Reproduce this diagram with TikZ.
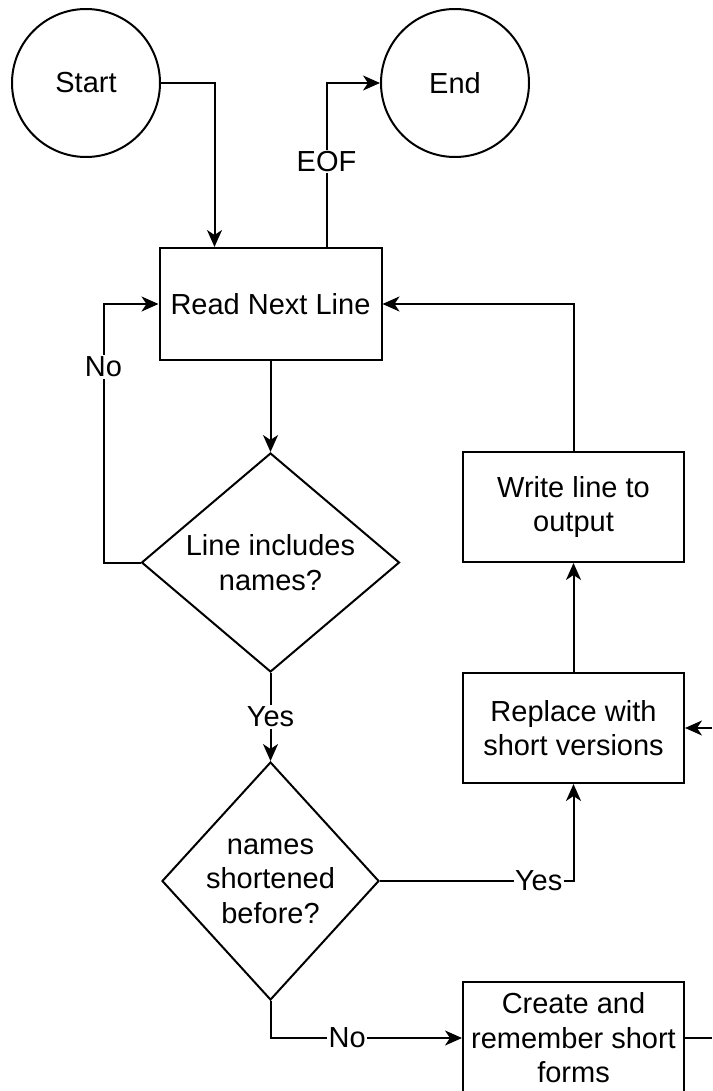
\documentclass[tikz,border=0pt]{standalone}
\usepackage{fontspec}
\setmainfont{Liberation Sans}
\usetikzlibrary{shapes.geometric,arrows.meta}
\begin{document}
\begin{tikzpicture}[x=1pt,y=-1pt,
  every node/.style={font=\fontsize{29}{34.5}\selectfont},
  line/.style={line width=2pt},
  flow/.style={line width=2pt, -{Stealth[length=17pt,width=15pt,inset=5pt]}},
  terminal/.style={draw, line width=2pt, circle, minimum size=148pt, inner sep=0pt},
  process/.style={draw, line width=2pt, rectangle, inner sep=0pt, align=center},
  decision/.style={draw, line width=2pt, diamond, inner sep=0pt},
  lbl/.style={fill=white, inner sep=1.5pt}
]
\useasboundingbox (0,0) rectangle (712,1091);

% terminals
\node[terminal] (start) at (86,83) {Start};
\node[terminal] (end) at (455,83) {End};

% processes
\node[process, minimum width=222pt, minimum height=112pt] (read) at (270.5,304) {Read Next Line};
\node[process, minimum width=221pt, minimum height=110pt] (write) at (573.5,507) {Write line to\\output};
\node[process, minimum width=221pt, minimum height=110pt] (replace) at (573.5,728) {Replace with\\short versions};
\node[process, minimum width=221pt, minimum height=112pt] (create) at (573.5,1038) {Create and\\remember short\\forms};

% decisions
\node[decision, minimum width=258pt, minimum height=219pt,
      label={[align=center]center:Line includes\\names?}] (dec1) at (270.5,562.5) {};
\node[decision, minimum width=217pt, minimum height=238pt,
      label={[align=center]center:names\\shortened\\before?}] (dec2) at (270.5,881) {};

% free ends at the right border
\coordinate (inR) at (712,728);
\coordinate (outC) at (712,1038);

% connectors
\draw[flow] (start.east) -| ([xshift=-56pt]read.north);
\draw[flow] ([xshift=56pt]read.north) |- node[lbl, pos=0.26] {EOF} (end.west);
\draw[flow] (read.south) -- (dec1.north);
\draw[flow] (dec1.west) -- ++(-37,0) |- node[lbl, pos=0.378] {No} (read.west);
\draw[flow] (dec1.south) -- node[lbl] {Yes} (dec2.north);
\draw[flow] (dec2.east) -| node[lbl, pos=0.41] {Yes} (replace.south);
\draw[flow] (dec2.south) |- node[lbl, pos=0.70] {No} (create.west);
\draw[flow] (replace.north) -- (write.south);
\draw[flow] (write.north) |- (read.east);
\draw[flow] (inR) -- (replace.east);
\draw[line] (create.east) -- (outC);
\end{tikzpicture}
\end{document}
